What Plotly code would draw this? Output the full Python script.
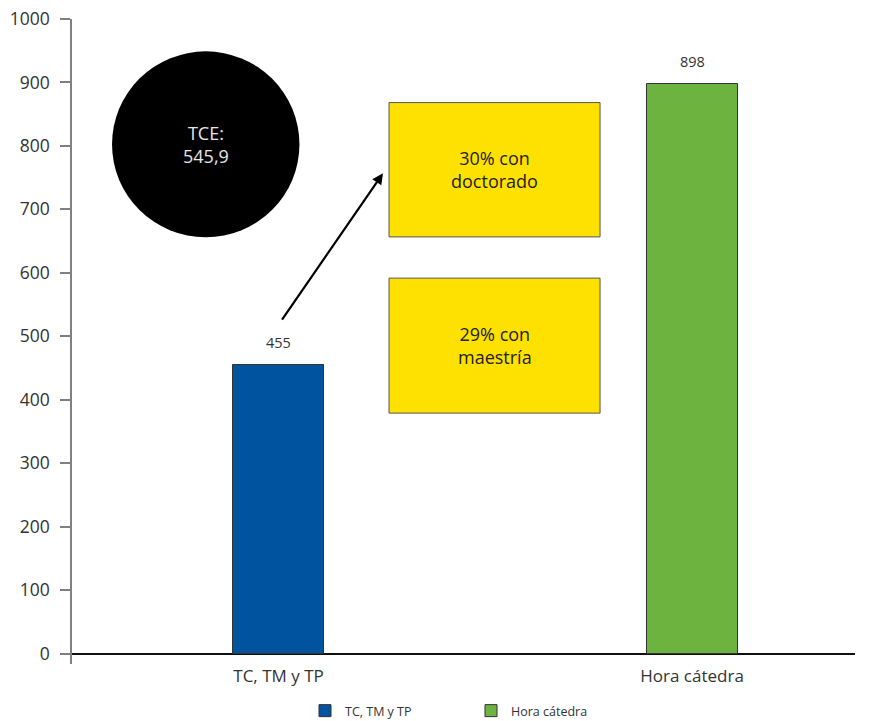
import plotly.graph_objects as go

categories = ["TC, TM y TP", "Hora cátedra"]
values = [455, 898]
bar_colors = ["#00539F", "#6DB33F"]
y_ticks = [0, 100, 200, 300, 400, 500, 600, 700, 800, 900, 1000]

tce_label = "TCE:<br>545,9"
box_labels = ["30% con<br>doctorado", "29% con<br>maestría"]

FONT = "Open Sans, Noto Sans, sans-serif"

fig = go.Figure()
for cat, val, col in zip(categories, values, bar_colors):
    fig.add_trace(go.Bar(
        x=[cat], y=[val], name=cat, width=0.22,
        marker=dict(color=col, line=dict(color="#333333", width=1)),
        hoverinfo="skip",
    ))

annotations = []
for cat, val in zip(categories, values):
    annotations.append(dict(x=cat, y=val, xref="x", yref="y", text=str(val),
                            showarrow=False, yanchor="middle", yshift=22,
                            font=dict(size=14.5, color="#333333", family=FONT)))

shapes = []
# black circle
shapes.append(dict(type="circle", xref="x", yref="y", x0=-0.4026, x1=0.0506,
                   y0=656, y1=949, fillcolor="black", line=dict(color="black", width=0),
                   layer="above"))
annotations.append(dict(x=-0.176, y=802.7, xref="x", yref="y", text=tce_label,
                        showarrow=False, font=dict(size=18, color="#E6E6E6", family=FONT)))

# yellow boxes
boxes_y = [(656.6, 868.3), (378.9, 591.6)]
for (y0, y1), lab in zip(boxes_y, box_labels):
    shapes.append(dict(type="rect", xref="x", yref="y", x0=0.2672, x1=0.7775,
                       y0=y0, y1=y1, fillcolor="#FFE100",
                       line=dict(color="#555555", width=1), layer="above"))
    annotations.append(dict(x=0.5224, y=(y0 + y1) / 2, xref="x", yref="y", text=lab,
                            showarrow=False, font=dict(size=18, color="#222222", family=FONT)))

# arrow
annotations.append(dict(x=0.2527, y=757, xref="x", yref="y", text="",
                        showarrow=True, ax=-102, ay=148, axref="pixel", ayref="pixel",
                        arrowhead=2, arrowsize=1, arrowwidth=2.2, arrowcolor="black",
                        standoff=0, startstandoff=0))

fig.update_layout(
    width=887, height=721,
    margin=dict(l=72, r=32, t=19, b=57, autoexpand=False),
    paper_bgcolor="white", plot_bgcolor="white",
    font=dict(family=FONT, color="#333333"),
    showlegend=True,
    legend=dict(orientation="h", x=(305 - 72) / 783, xanchor="left",
                y=(664 - 711) / 645, yanchor="middle",
                font=dict(size=12.5, color="#333333", family=FONT),
                entrywidth=121, entrywidthmode="pixels", traceorder="normal"),
    shapes=shapes,
    annotations=annotations,
    bargap=0,
)
fig.update_xaxes(type="category", categoryorder="array", categoryarray=categories,
                 range=[-0.4994, 1.394], showline=False, showgrid=False, ticks="",
                 automargin=False,
                 tickfont=dict(size=17, color="#333333", family=FONT), zeroline=False)
fig.update_yaxes(range=[-16.5, 1000], tickvals=y_ticks, showline=True, linecolor="#808080",
                 linewidth=1.5, ticks="outside", ticklen=10, tickcolor="#808080", tickwidth=1.5,
                 showgrid=False, zeroline=True, zerolinecolor="#111111", zerolinewidth=1.5,
                 ticklabelstandoff=7, automargin=False,
                 tickfont=dict(size=17.5, color="#333333", family=FONT))

fig.write_html("out.html", config={"displayModeBar": False},
               post_script="document.body.style.margin='0';document.body.style.padding='0';"
                           "document.body.style.overflow='hidden';")
